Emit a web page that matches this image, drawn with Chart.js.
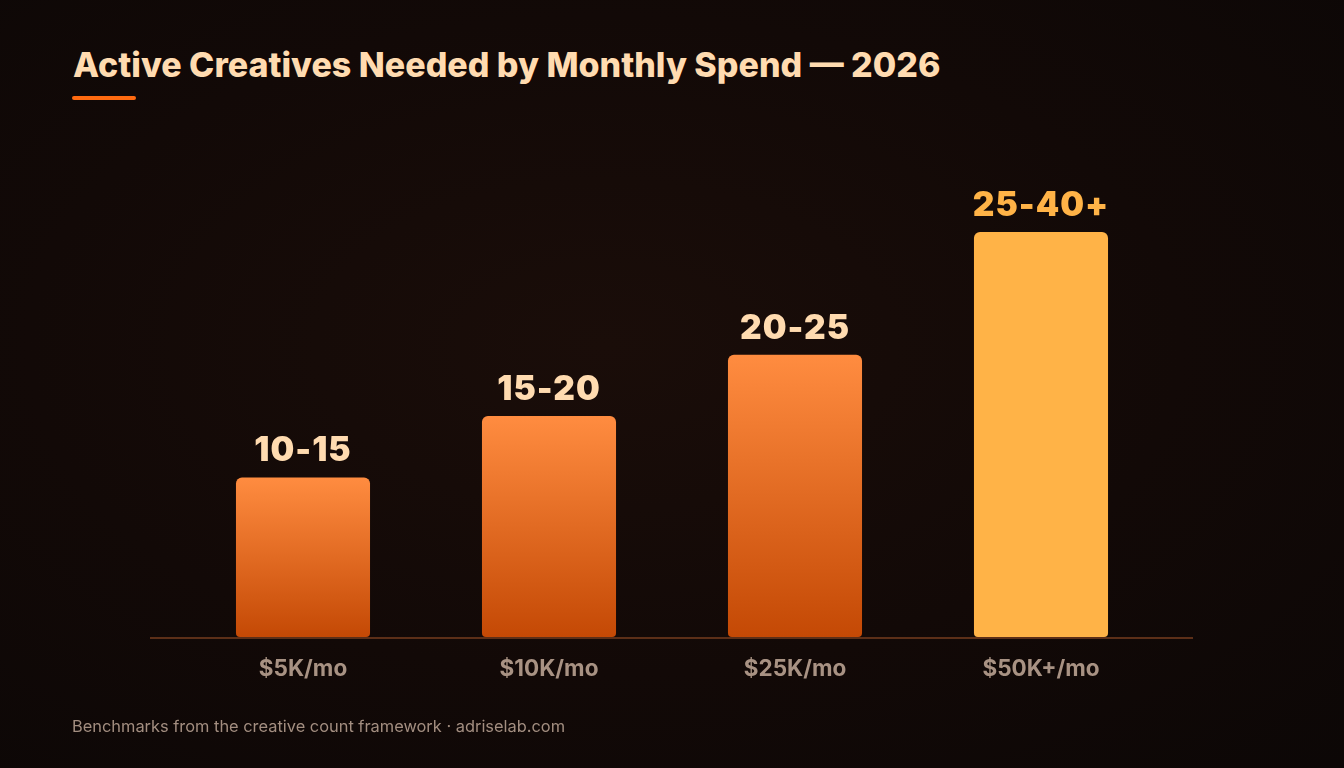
<!DOCTYPE html>
<html>
<head>
<meta charset="utf-8">
<script src="https://cdn.jsdelivr.net/npm/chart.js@4"></script>
<style>
  html, body { margin: 0; padding: 0; }
  body {
    width: 1344px; height: 768px; overflow: hidden; position: relative;
    background: radial-gradient(ellipse at 45% 45%, #1a0d09 0%, #120907 55%, #0c0706 100%);
    font-family: Inter, "Noto Sans", sans-serif;
  }
  h1 {
    position: absolute; left: 73px; top: 44px; margin: 0;
    font-size: 34px; font-weight: 800; color: #ffdbb0; letter-spacing: 0px;
  }
  .accent {
    position: absolute; left: 72px; top: 96px; width: 64px; height: 4px;
    border-radius: 2px; background: #ff6a10;
  }
  .foot {
    position: absolute; left: 72px; top: 716px;
    font-size: 16.4px; color: #a38e80;
  }
  #wrap { position: absolute; left: 0; top: 0; width: 1344px; height: 768px; }
</style>
</head>
<body>
<h1>Active Creatives Needed by Monthly Spend — 2026</h1>
<div class="accent"></div>
<div id="wrap"><canvas id="chart"></canvas></div>
<div class="foot">Benchmarks from the creative count framework · adriselab.com</div>
<script>
const tiers = ['$5K/mo', '$10K/mo', '$25K/mo', '$50K+/mo'];
const rangeLabels = ['10-15', '15-20', '20-25', '25-40+'];
const barValues = [13, 18, 23, 33];

const ctx = document.getElementById('chart').getContext('2d');

function barFill(context) {
  const chart = context.chart;
  if (!chart.chartArea) return '#ff8c40';
  if (context.dataIndex === barValues.length - 1) return '#ffb347';
  const y = chart.scales.y;
  const top = y.getPixelForValue(barValues[context.dataIndex]);
  const bottom = y.getPixelForValue(0);
  const g = chart.ctx.createLinearGradient(0, top, 0, bottom);
  g.addColorStop(0, '#ff8c40');
  g.addColorStop(1, '#c44905');
  return g;
}

// Labels above the bars + long baseline
const extras = {
  id: 'extras',
  beforeDatasetsDraw(chart) {
    const c = chart.ctx;
    const y0 = chart.scales.y.getPixelForValue(0);
    c.save();
    c.strokeStyle = '#5c2f18';
    c.lineWidth = 2;
    c.beginPath();
    c.moveTo(chart.chartArea.left - 30, y0 + 1);
    c.lineTo(chart.chartArea.right + 29, y0 + 1);
    c.stroke();
    c.restore();
  },
  afterDatasetsDraw(chart) {
    const c = chart.ctx;
    const meta = chart.getDatasetMeta(0);
    c.save();
    c.font = '900 33.5px Inter, sans-serif';
    c.letterSpacing = '1px';
    c.textAlign = 'center';
    c.textBaseline = 'alphabetic';
    meta.data.forEach((bar, i) => {
      c.fillStyle = i === barValues.length - 1 ? '#ffb347' : '#ffdbb0';
      c.fillText(rangeLabels[i], bar.x, bar.y - 16);
    });
    c.restore();
  }
};

new Chart(ctx, {
  type: 'bar',
  data: {
    labels: tiers,
    datasets: [{
      data: barValues,
      backgroundColor: barFill,
      borderRadius: { topLeft: 6, topRight: 6, bottomLeft: 4, bottomRight: 4 },
      borderSkipped: false,
      barPercentage: 0.545,
      categoryPercentage: 1
    }]
  },
  options: {
    responsive: true,
    maintainAspectRatio: false,
    animation: false,
    layout: { padding: { left: 180, right: 180, top: 146, bottom: 74 } },
    plugins: { legend: { display: false }, tooltip: { enabled: false } },
    scales: {
      x: {
        grid: { display: false },
        border: { display: false },
        ticks: {
          color: '#a89283',
          padding: 11,
          font: { family: 'Inter', size: 22.5, weight: '700' }
        }
      },
      y: {
        display: false,
        min: 0,
        max: 40
      }
    }
  },
  plugins: [extras]
});
</script>
</body>
</html>
